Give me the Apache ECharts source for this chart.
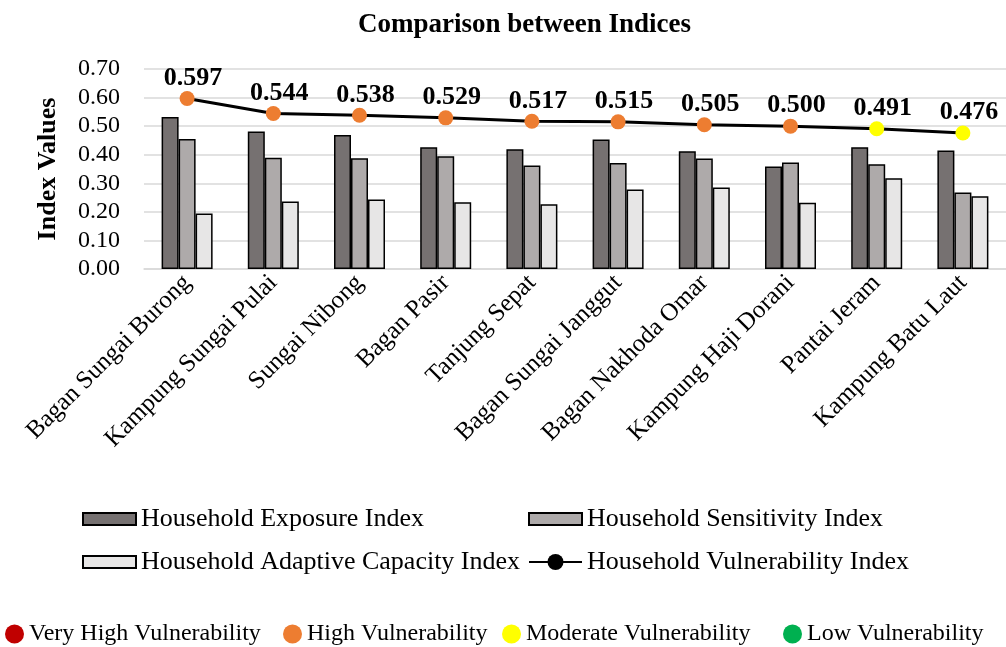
<!DOCTYPE html>
<html>
<head>
<meta charset="utf-8">
<script src="https://cdn.jsdelivr.net/npm/echarts@6/dist/echarts.min.js"></script>
<style>
  html, body { margin: 0; padding: 0; background: #fff; }
  #main { width: 1006px; height: 647px; }
</style>
</head>
<body>
<div id="main"></div>
<script>
const villages = [
  'Bagan Sungai Burong', 'Kampung Sungai Pulai', 'Sungai Nibong', 'Bagan Pasir', 'Tanjung Sepat',
  'Bagan Sungai Janggut', 'Bagan Nakhoda Omar', 'Kampung Haji Dorani', 'Pantai Jeram', 'Kampung Batu Laut'
];
const exposure = [0.532, 0.481, 0.469, 0.426, 0.419, 0.453, 0.412, 0.359, 0.426, 0.415];
const sensitivity = [0.455, 0.389, 0.388, 0.395, 0.362, 0.371, 0.387, 0.373, 0.367, 0.268];
const adaptive = [0.194, 0.236, 0.243, 0.234, 0.227, 0.278, 0.285, 0.232, 0.318, 0.255];
const vulnerability = [0.597, 0.544, 0.538, 0.529, 0.517, 0.515, 0.505, 0.500, 0.491, 0.476];
const vulnClass = ['High', 'High', 'High', 'High', 'High', 'High', 'High', 'High', 'Moderate', 'Moderate'];
const yTicks = [0, 0.1, 0.2, 0.3, 0.4, 0.5, 0.6, 0.7];

const classColors = {
  'Very High': '#C00000',
  'High': '#ED7D31',
  'Moderate': '#FFFF00',
  'Low': '#00B050'
};

const FONT = "'Liberation Serif', 'Times New Roman', serif";
const myChart = echarts.init(document.getElementById('main'), null, { renderer: 'canvas' });

function barSeries(name, data, color) {
  return {
    name,
    type: 'bar',
    data,
    barWidth: 17,
    barGap: '0%',
    itemStyle: { color, borderColor: '#000', borderWidth: 1.5 }
  };
}

function legendText(size) {
  return { fontFamily: FONT, fontSize: size, color: '#000' };
}

// empty series, only there so the colour key shows in the legend
const classSeries = Object.keys(classColors).map((k) => ({
  name: k + ' Vulnerability',
  type: 'scatter',
  data: [],
  itemStyle: { color: classColors[k], opacity: 1 }
}));

const option = {
  animation: false,
  title: {
    text: 'Comparison between Indices',
    left: 353,
    top: 7,
    textStyle: { fontFamily: FONT, fontSize: 27, fontWeight: 'bold', color: '#000' }
  },
  grid: { left: 144, top: 69, width: 873, height: 200, containLabel: false },
  legend: [
    { data: [{ name: 'Household Exposure Index', icon: 'rect' }], left: 77, top: 501, itemWidth: 53, itemHeight: 12, textStyle: legendText(26) },
    { data: [{ name: 'Household Sensitivity Index', icon: 'rect' }], left: 523, top: 501, itemWidth: 53, itemHeight: 12, textStyle: legendText(26) },
    { data: [{ name: 'Household Adaptive Capacity Index', icon: 'rect' }], left: 77, top: 544, itemWidth: 53, itemHeight: 12, textStyle: legendText(26) },
    { data: ['Household Vulnerability Index'], left: 523, top: 544, itemWidth: 53, itemHeight: 20, textStyle: legendText(26) },
    { data: [{ name: 'Very High Vulnerability', icon: 'circle' }], left: 0, top: 617, itemWidth: 19, itemHeight: 20, textStyle: legendText(24) },
    { data: [{ name: 'High Vulnerability', icon: 'circle' }], left: 278, top: 617, itemWidth: 19, itemHeight: 20, textStyle: legendText(24) },
    { data: [{ name: 'Moderate Vulnerability', icon: 'circle' }], left: 497, top: 617, itemWidth: 19, itemHeight: 20, textStyle: legendText(24) },
    { data: [{ name: 'Low Vulnerability', icon: 'circle' }], left: 778, top: 617, itemWidth: 19, itemHeight: 20, textStyle: legendText(24) }
  ],
  xAxis: {
    type: 'category',
    data: villages,
    axisLine: { show: true, lineStyle: { color: '#d9d9d9', width: 1.5 } },
    axisTick: { show: false },
    axisLabel: {
      rotate: 45,
      interval: 0,
      margin: 10,
      fontFamily: FONT,
      fontSize: 25,
      color: '#000'
    }
  },
  yAxis: {
    type: 'value',
    min: 0,
    max: yTicks[yTicks.length - 1],
    interval: 0.1,
    name: 'Index Values',
    nameLocation: 'middle',
    nameRotate: 90,
    nameGap: 83,
    nameTextStyle: { fontFamily: FONT, fontSize: 26, fontWeight: 'bold', color: '#000' },
    axisLine: { show: false },
    axisTick: { show: false },
    axisLabel: {
      margin: 24,
      fontFamily: FONT,
      fontSize: 24,
      color: '#000',
      formatter: (v) => v.toFixed(2)
    },
    splitLine: { lineStyle: { color: '#d9d9d9', width: 1.5 } }
  },
  series: [
    barSeries('Household Exposure Index', exposure, '#767171'),
    barSeries('Household Sensitivity Index', sensitivity, '#AEAAAA'),
    barSeries('Household Adaptive Capacity Index', adaptive, '#E7E6E6'),
    {
      name: 'Household Vulnerability Index',
      type: 'line',
      data: vulnerability.map((v, i) => ({ value: v, itemStyle: { color: classColors[vulnClass[i]] } })),
      symbol: 'circle',
      symbolSize: 15,
      lineStyle: { color: '#000', width: 3 },
      itemStyle: { color: '#000' },
      z: 5,
      label: {
        show: true,
        position: 'top',
        distance: 0,
        offset: [6, 0],
        fontFamily: FONT,
        fontSize: 26,
        fontWeight: 'bold',
        color: '#000',
        formatter: (p) => p.value.toFixed(3)
      }
    },
    ...classSeries
  ]
};

myChart.setOption(option);
</script>
</body>
</html>
